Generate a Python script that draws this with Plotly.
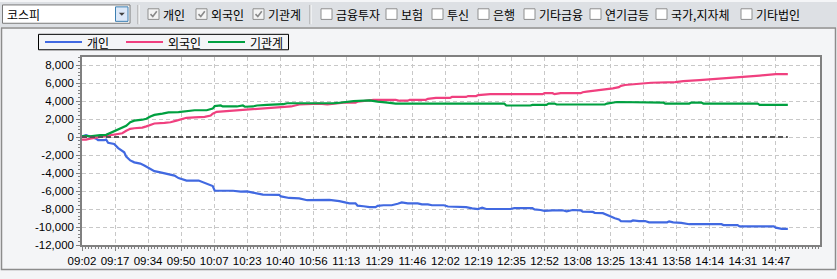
import plotly.graph_objects as go

# ---------------- data ----------------
time_labels = ["09:02", "09:17", "09:34", "09:50", "10:07", "10:23", "10:40", "10:56",
               "11:13", "11:29", "11:46", "12:02", "12:19", "12:35", "12:52", "13:08",
               "13:25", "13:41", "13:58", "14:14", "14:31", "14:47"]
y_tick_vals = [-12000, -10000, -8000, -6000, -4000, -2000, 0, 2000, 4000, 6000, 8000]
y_tick_text = ["-12,000", "-10,000", "-8,000", "-6,000", "-4,000", "-2,000", "0",
               "2,000", "4,000", "6,000", "8,000"]

series_names = ["개인", "외국인", "기관계"]

# minutes after 09:00
indiv_min = [2, 4, 9, 10, 13, 14, 15, 18, 20, 23, 24, 26, 28, 31, 33, 36, 38, 41, 45, 48,
             50, 52, 54, 60, 62, 64, 67, 68, 71, 72, 77, 81, 84, 87, 92, 100, 101, 105, 110,
             114, 125, 130, 132, 135, 138, 139, 142, 145, 148, 149, 152, 156, 159, 161, 164,
             169, 171, 174, 176, 182, 184, 193, 196, 199, 201, 203, 215, 217, 226, 227, 230,
             232, 236, 241, 243, 246, 250, 251, 256, 257, 261, 262, 263, 265, 267, 269, 270,
             275, 276, 279, 282, 284, 293, 294, 296, 300, 304, 320, 321, 328, 329, 346, 347,
             350, 353]
indiv = [70, 200, -175, -350, -350, -280, -630, -770, -1230, -1690, -2180, -2600, -2810,
         -2950, -3160, -3510, -3790, -3930, -4100, -4280, -4560, -4740, -4840, -4840, -5020,
         -5160, -5440, -5970, -5970, -5900, -5970, -6070, -6040, -6180, -6390, -6420, -6600,
         -6770, -6810, -7020, -6990, -7120, -7230, -7370, -7370, -7620, -7690, -7790, -7790,
         -7650, -7580, -7580, -7410, -7270, -7370, -7370, -7480, -7480, -7580, -7580, -7720,
         -7790, -7930, -8000, -7860, -8000, -8000, -7900, -7900, -8040, -8110, -8210, -8140,
         -8140, -8250, -8110, -8140, -8300, -8320, -8420, -8460, -8560, -8700, -8850, -9020,
         -9160, -9340, -9370, -9270, -9340, -9340, -9480, -9480, -9370, -9480, -9550, -9690,
         -9690, -9790, -9790, -9930, -9930, -10070, -10200, -10200]

foreign_min = [2, 4, 6, 9, 11, 14, 16, 19, 22, 24, 26, 28, 32, 34, 36, 38, 43, 46, 49, 52,
               54, 58, 63, 66, 67, 69, 74, 79, 84, 87, 90, 96, 101, 106, 110, 115, 120, 124,
               127, 130, 132, 138, 139, 147, 158, 160, 164, 165, 173, 174, 178, 185, 186, 193,
               194, 198, 199, 205, 231, 232, 236, 237, 240, 250, 251, 253, 258, 264, 266, 269,
               270, 272, 279, 285, 297, 301, 309, 316, 323, 330, 334, 339, 347, 353]
foreign = [-280, -280, -175, -70, 0, 105, 175, 315, 420, 700, 910, 980, 1050, 1190, 1370,
           1510, 1580, 1650, 1825, 2035, 2140, 2180, 2250, 2390, 2600, 2810, 2880, 2950,
           3020, 3090, 3160, 3260, 3330, 3400, 3620, 3690, 3720, 3620, 3720, 3760, 3830,
           3830, 3930, 4140, 4140, 4040, 4040, 4140, 4140, 4250, 4350, 4350, 4460, 4460,
           4560, 4560, 4670, 4770, 4770, 4880, 4880, 4770, 4880, 4880, 4980, 5050, 5190,
           5300, 5410, 5550, 5690, 5790, 5930, 6040, 6110, 6210, 6320, 6420, 6530, 6630,
           6740, 6840, 7000, 7000]

inst_min = [2, 4, 6, 9, 11, 14, 16, 19, 21, 24, 26, 28, 32, 34, 36, 38, 42, 45, 50, 54, 58,
            64, 67, 68, 71, 72, 79, 82, 83, 87, 89, 94, 102, 104, 110, 117, 124, 127, 129,
            132, 137, 145, 147, 149, 154, 158, 212, 213, 225, 226, 233, 234, 237, 238, 262,
            263, 268, 276, 277, 291, 292, 304, 305, 310, 311, 338, 339, 353]
inst = [70, 140, 70, 175, 210, 245, 455, 700, 980, 1260, 1650, 1825, 1930, 2035, 2280, 2460,
        2600, 2740, 2770, 2910, 2980, 2980, 3160, 3440, 3510, 3400, 3400, 3510, 3370, 3400,
        3510, 3580, 3650, 3760, 3760, 3690, 3720, 3760, 3790, 3900, 4000, 4070, 3970, 3930,
        3830, 3720, 3720, 3510, 3510, 3580, 3580, 3720, 3720, 3620, 3620, 3720, 3900, 3900,
        3830, 3830, 3720, 3720, 3830, 3830, 3720, 3720, 3580, 3580]

series_colors = ["#4169E1", "#F0407F", "#00A040"]

# ---------------- layout geometry ----------------
W, H = 837, 279
L, R, T, B = 82, 17, 57, 27
PW, PH = W - L - R, H - T - B


def fx(x):
    return (x - L) / PW


def fy(y):
    return (H - B - y) / PH


fig = go.Figure()

for xs, ys, name, col in zip([indiv_min, foreign_min, inst_min], [indiv, foreign, inst],
                             series_names, series_colors):
    fig.add_trace(go.Scatter(x=xs, y=ys, mode="lines", name=name,
                             line=dict(color=col, width=2.2)))

# zero reference line drawn across the data span
fig.add_trace(go.Scatter(x=[indiv_min[0], indiv_min[-1]], y=[0, 0], mode="lines",
                         showlegend=False, hoverinfo="skip",
                         line=dict(color="#555555", width=2, dash="5px,3px")))

tick_pos = [2 + i * 16.43 for i in range(len(time_labels))]

shapes = []
annotations = []
# toolbar background
shapes.append(dict(type="rect", xref="paper", yref="paper", x0=fx(0), x1=fx(W), y0=fy(0),
                   y1=fy(26), fillcolor="#DDE0E4", line=dict(width=0), layer="below"))
# chart panel border
shapes.append(dict(type="rect", xref="paper", yref="paper", x0=fx(1.5), x1=fx(835.5),
                   y0=fy(27), y1=fy(277.5), fillcolor="rgba(0,0,0,0)",
                   line=dict(color="#8C8C8C", width=1.5), layer="below"))
# dropdown
shapes.append(dict(type="rect", xref="paper", yref="paper", x0=fx(2.5), x1=fx(130), y0=fy(3),
                   y1=fy(22), fillcolor="#FFFFFF", line=dict(color="#7A7A7A", width=1)))
shapes.append(dict(type="rect", xref="paper", yref="paper", x0=fx(115.5), x1=fx(128), y0=fy(5),
                   y1=fy(20), fillcolor="#DCE8F8", line=dict(color="#3C7FB1", width=1)))
ax, ay = 121.8, 12.5
shapes.append(dict(type="path", xref="paper", yref="paper",
                   path=f"M{fx(ax-3)},{fy(ay-1.5)} L{fx(ax+3)},{fy(ay-1.5)} L{fx(ax)},{fy(ay+1.8)} Z",
                   fillcolor="#404040", line=dict(width=0)))
annotations.append(dict(text="코스피", xref="paper", yref="paper", x=fx(5), y=fy(12.5),
                        xanchor="left", yanchor="middle", showarrow=False,
                        font=dict(family="Noto Sans CJK KR", size=12, color="#000000")))
# separators
for sx in (138, 310):
    shapes.append(dict(type="line", xref="paper", yref="paper", x0=fx(sx), x1=fx(sx),
                       y0=fy(3), y1=fy(23), line=dict(color="#9A9A9A", width=1)))
    shapes.append(dict(type="line", xref="paper", yref="paper", x0=fx(sx + 1), x1=fx(sx + 1),
                       y0=fy(3), y1=fy(23), line=dict(color="#FFFFFF", width=1)))

check_labels = ["개인", "외국인", "기관계", "금융투자", "보험", "투신", "은행", "기타금융",
                "연기금등", "국가,지자체", "기타법인"]
check_state = [True, True, True, False, False, False, False, False, False, False, False]
check_x = [148, 196, 253, 321, 386, 432, 478, 524, 590, 656, 741]
for bx, lab, st in zip(check_x, check_labels, check_state):
    y0, y1 = 7, 18
    shapes.append(dict(type="rect", xref="paper", yref="paper", x0=fx(bx), x1=fx(bx + 11),
                       y0=fy(y0), y1=fy(y1), fillcolor="#F4F4F4" if st else "#FFFFFF",
                       line=dict(color="#8E8F8F", width=1)))
    if st:
        shapes.append(dict(type="path", xref="paper", yref="paper",
                           path=(f"M{fx(bx+2.5)},{fy(12.5)} L{fx(bx+4.8)},{fy(15)} "
                                 f"L{fx(bx+8.8)},{fy(9.5)}"),
                           line=dict(color="#8A8A8A", width=1.6)))
    annotations.append(dict(text=lab, xref="paper", yref="paper", x=fx(bx + 13), y=fy(12.8),
                            xanchor="left", yanchor="middle", showarrow=False,
                            font=dict(family="Noto Sans CJK KR", size=12, color="#000000")))

# legend box (drawn to match the compact legend of the reference)
shapes.append(dict(type="rect", xref="paper", yref="paper", x0=fx(38.5), x1=fx(288.5),
                   y0=fy(33.5), y1=fy(49.5), fillcolor="rgba(0,0,0,0)",
                   line=dict(color="#000000", width=1)))
legend_x = [45, 126, 208]
for lx, name, col in zip(legend_x, series_names, series_colors):
    shapes.append(dict(type="line", xref="paper", yref="paper", x0=fx(lx), x1=fx(lx + 37),
                       y0=fy(41.5), y1=fy(41.5), line=dict(color=col, width=2)))
    annotations.append(dict(text=name, xref="paper", yref="paper", x=fx(lx + 40), y=fy(41.5),
                            xanchor="left", yanchor="middle", showarrow=False,
                            font=dict(family="Noto Sans CJK KR", size=12, color="#000000")))

axis_font = dict(family="Liberation Sans, Arial", size=11.5, color="#000000")

fig.update_layout(
    width=W, height=H,
    margin=dict(l=L, r=R, t=T, b=B, pad=0),
    paper_bgcolor="#F4F5F7",
    plot_bgcolor="#FFFFFF",
    showlegend=False,
    xaxis=dict(range=[2, 369], tickmode="array", tickvals=tick_pos, ticktext=time_labels,
               showgrid=True, gridcolor="#C8C8C8", griddash="4px,3px", gridwidth=1,
               showline=True, linecolor="#808080", linewidth=1.5, mirror=True,
               ticks="outside", ticklen=4, tickcolor="#808080", tickfont=axis_font,
               zeroline=False, fixedrange=True,
               minor=dict(tick0=2, dtick=16.43 / 10, ticks="outside", ticklen=2,
                          tickcolor="#808080", showgrid=False)),
    yaxis=dict(range=[-12000, 8900], tickmode="array", tickvals=y_tick_vals,
               ticktext=y_tick_text,
               showgrid=True, gridcolor="#C8C8C8", griddash="4px,3px", gridwidth=1,
               showline=True, linecolor="#808080", linewidth=1.5, mirror=True,
               ticks="outside", ticklen=4, tickcolor="#808080", tickfont=axis_font,
               zeroline=False, fixedrange=True,
               minor=dict(tick0=0, dtick=400, ticks="outside", ticklen=2,
                          tickcolor="#808080", showgrid=False)),
    shapes=shapes,
    annotations=annotations,
)

fig.write_html("out.html")
